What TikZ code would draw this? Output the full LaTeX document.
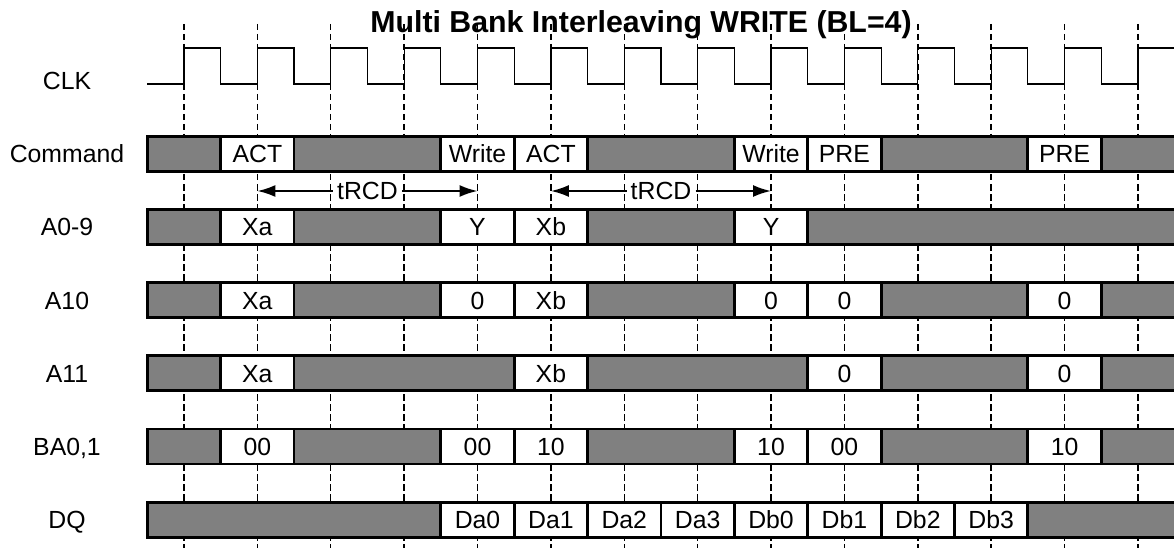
\documentclass[tikz,border=0pt]{standalone}
\usepackage{fontspec}
\setmainfont{Liberation Sans}
\usetikzlibrary{arrows.meta}
\colorlet{busgray}{black!50}
\newcommand{\cellfont}{\fontsize{24.8}{28}\selectfont}
\newcommand{\titlefont}{\fontsize{30.3}{34}\selectfont\bfseries}

\begin{document}
\begin{tikzpicture}[x=1pt,y=-1pt,
    seg/.style={draw, line width=2.8pt, minimum height=35pt, inner sep=0pt,
                text height=17.8pt, text depth=0pt, font=\cellfont},
    idle/.style={seg, fill=busgray},
    val/.style={seg, fill=white},
    lbl/.style={font=\cellfont, text height=17.8pt, text depth=0pt, inner sep=0pt},
    clkline/.style={line width=1.4pt, dash pattern=on 6.5pt off 3.5pt},
    clk/.style={line width=1.2pt},
    span/.style={line width=2pt, -{Latex[length=18pt,width=12pt]}}]
    % Picture frame
    \clip (0,0) rectangle (1174,548);

    % Title
    \node[font=\titlefont, anchor=base] (title) at (641,33) {Multi Bank Interleaving WRITE (BL=4)};

    % Dashed lines at the rising clock edges
    \foreach \k in {0,...,13}
        \draw[clkline] ({184+\k*73.38},24) -- ++(0,530);

    % Clock
    \node[lbl] (lclk) at (67,81) {CLK};
    \draw[clk] (147,84) foreach \k in {0,...,13} {
        -- ({184+\k*73.38},84) -- ++(0,-36) -- ++(36.69,0) -- ++(0,36)};

    % Bus rows: first cell / last cell / style / text
    \foreach \n/\name/\y/\segs in {
        cmd/Command/153.8/{0/1/idle/{},1/2/val/ACT,2/4/idle/{},4/5/val/Write,5/6/val/ACT,
            6/8/idle/{},8/9/val/Write,9/10/val/PRE,10/12/idle/{},12/13/val/PRE,13/14.2/idle/{}},
        addr/A0-9/227.0/{0/1/idle/{},1/2/val/Xa,2/4/idle/{},4/5/val/Y,5/6/val/Xb,
            6/8/idle/{},8/9/val/Y,9/14.2/idle/{}},
        aten/A10/300.1/{0/1/idle/{},1/2/val/Xa,2/4/idle/{},4/5/val/0,5/6/val/Xb,
            6/8/idle/{},8/9/val/0,9/10/val/0,10/12/idle/{},12/13/val/0,13/14.2/idle/{}},
        aeleven/A11/373.3/{0/1/idle/{},1/2/val/Xa,2/5/idle/{},5/6/val/Xb,
            6/9/idle/{},9/10/val/0,10/12/idle/{},12/13/val/0,13/14.2/idle/{}},
        bank/{BA0,1}/446.4/{0/1/idle/{},1/2/val/00,2/4/idle/{},4/5/val/00,5/6/val/10,
            6/8/idle/{},8/9/val/10,9/10/val/00,10/12/idle/{},12/13/val/10,13/14.2/idle/{}},
        dq/DQ/519.6/{0/4/idle/{},4/5/val/Da0,5/6/val/Da1,6/7/val/Da2,7/8/val/Da3,
            8/9/val/Db0,9/10/val/Db1,10/11/val/Db2,11/12/val/Db3,12/14.2/idle/{}}} {
        \node[lbl] (l\n) at (67,\y) {\name};
        \foreach \ca/\cb/\sty/\txt [count=\i] in \segs
            \node[\sty, minimum width={(\cb-\ca)*73.38pt}] (\n\i)
                at ({147.3+(\ca+\cb)/2*73.38},\y) {\txt};
    }

    % tRCD spans from ACT to Write
    \node[lbl, inner xsep=4pt] (trcd1) at (367.5,191) {tRCD};
    \coordinate (act1) at (257.4,191);
    \coordinate (wr1) at (477.5,191);
    \draw[span] (trcd1.west) -- (act1);
    \draw[span] (trcd1.east) -- (wr1);

    \node[lbl, inner xsep=4pt] (trcd2) at (661,191) {tRCD};
    \coordinate (act2) at (550.9,191);
    \coordinate (wr2) at (771,191);
    \draw[span] (trcd2.west) -- (act2);
    \draw[span] (trcd2.east) -- (wr2);
\end{tikzpicture}
\end{document}
